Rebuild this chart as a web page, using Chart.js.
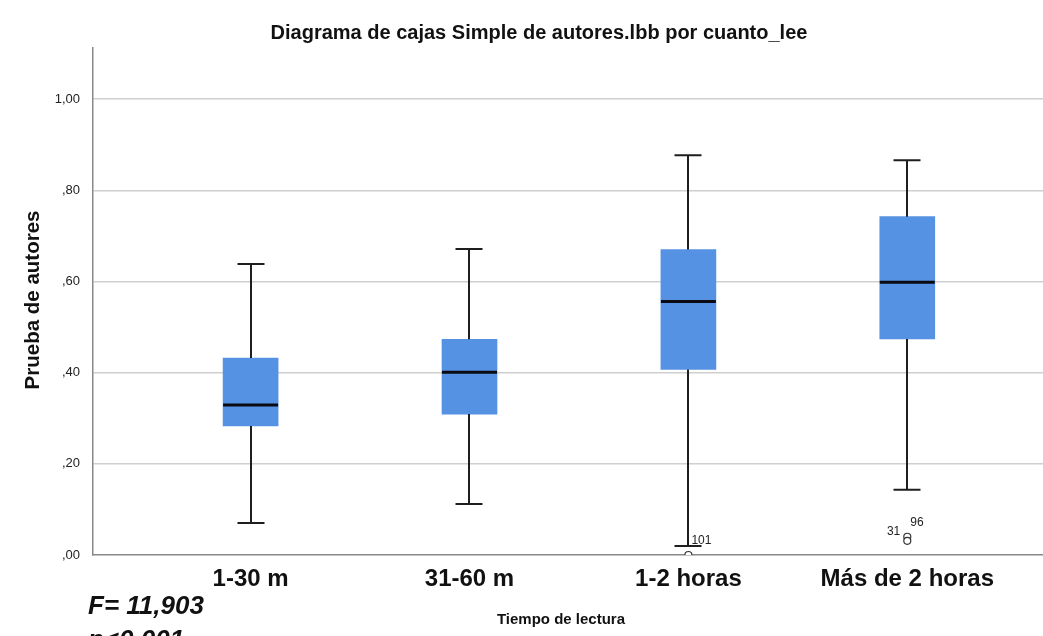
<!DOCTYPE html>
<html><head><meta charset="utf-8">
<script src="https://cdn.jsdelivr.net/npm/chart.js@4/dist/chart.umd.min.js"></script>
<style>html,body{margin:0;padding:0;background:#fff;overflow:hidden}#wrap{width:1043px;height:636px;position:relative}canvas{display:block}</style>
</head><body><div id="wrap"><canvas id="c" width="1043" height="636"></canvas></div>
<script>
const categories = ['1-30 m', '31-60 m', '1-2 horas', 'Más de 2 horas'];
const whiskerLow = [0.070, 0.112, 0.020, 0.143];
const q1 = [0.283, 0.309, 0.407, 0.474];
const median = [0.329, 0.401, 0.556, 0.598];
const q3 = [0.432, 0.473, 0.670, 0.742];
const whiskerHigh = [0.638, 0.671, 0.877, 0.866];
const outlierCategory = [3, 4, 4];
const outlierValues = [0.000, 0.040, 0.031];
const outlierLabels = ['101', '96', '31'];
const yTicks = [0, 0.2, 0.4, 0.6, 0.8, 1.0];

const FONT = '"Liberation Sans", Arial, Helvetica, sans-serif';
const labelPlacement = [
  {dx: 3, dy: -14, align: 'left'},
  {dx: 3, dy: -14, align: 'left'},
  {dx: -7, dy: -9, align: 'right'}
];

const boxPlugin = {
  id: 'boxDecor',
  afterDatasetsDraw(chart) {
    const {ctx, scales: {y}} = chart;
    const meta = chart.getDatasetMeta(0);
    ctx.save();
    categories.forEach((c, i) => {
      const bar = meta.data[i];
      const cx = Math.round(bar.x);
      const half = bar.width / 2;
      const cap = 13.5;
      const yHi = y.getPixelForValue(whiskerHigh[i]);
      const yQ3 = y.getPixelForValue(q3[i]);
      const yQ1 = y.getPixelForValue(q1[i]);
      const yLo = y.getPixelForValue(whiskerLow[i]);
      const yMed = y.getPixelForValue(median[i]);
      ctx.strokeStyle = '#1e1e1e';
      ctx.lineWidth = 2;
      ctx.beginPath();
      ctx.moveTo(cx, yHi); ctx.lineTo(cx, yQ3);
      ctx.moveTo(cx, yQ1); ctx.lineTo(cx, yLo);
      ctx.moveTo(cx - cap, yHi); ctx.lineTo(cx + cap, yHi);
      ctx.moveTo(cx - cap, yLo); ctx.lineTo(cx + cap, yLo);
      ctx.stroke();
      ctx.strokeStyle = '#0a0a12';
      ctx.lineWidth = 3;
      ctx.beginPath();
      ctx.moveTo(bar.x - half, yMed); ctx.lineTo(bar.x + half, yMed);
      ctx.stroke();
    });
    const om = chart.getDatasetMeta(1);
    ctx.fillStyle = '#222';
    ctx.font = '12px ' + FONT;
    ctx.textBaseline = 'middle';
    outlierLabels.forEach((t, i) => {
      const p = om.data[i];
      const pl = labelPlacement[i];
      ctx.textAlign = pl.align;
      ctx.fillText(t, p.x + pl.dx, p.y + pl.dy);
    });
    ctx.restore();
  },
  afterDraw(chart) {
    const ctx = chart.ctx;
    ctx.save();
    ctx.fillStyle = '#111';
    ctx.textAlign = 'center';
    ctx.textBaseline = 'middle';
    ctx.font = 'bold 20px ' + FONT;
    ctx.fillText('Diagrama de cajas Simple de autores.lbb por cuanto_lee', 539, 33);
    ctx.font = 'bold 15px ' + FONT;
    ctx.fillText('Tiempo de lectura', 561, 620);
    ctx.save();
    ctx.translate(33, 300);
    ctx.rotate(-Math.PI / 2);
    ctx.font = 'bold 20.5px ' + FONT;
    ctx.fillText('Prueba de autores', 0, 0);
    ctx.restore();
    ctx.textAlign = 'left';
    ctx.font = 'italic bold 26px ' + FONT;
    ctx.fillText('F= 11,903', 88, 607);
    ctx.fillText('p<0,001', 88, 641);
    ctx.restore();
  }
};

const fmt = v => v.toFixed(2).replace('.', ',').replace(/^0/, '');

new Chart(document.getElementById('c'), {
  data: {
    datasets: [
      {
        type: 'bar',
        data: categories.map((c, i) => ({x: i + 1, y: [q1[i], q3[i]]})),
        backgroundColor: '#5592e3',
        borderWidth: 0,
        barThickness: 55
      },
      {
        type: 'scatter',
        data: outlierValues.map((v, i) => ({x: outlierCategory[i], y: v})),
        pointStyle: 'circle',
        pointRadius: 3.5,
        pointBorderWidth: 1.2,
        pointBorderColor: '#333',
        pointBackgroundColor: '#fff'
      }
    ]
  },
  options: {
    responsive: false,
    maintainAspectRatio: false,
    animation: false,
    devicePixelRatio: 1,
    layout: {autoPadding: false, padding: {top: 48, right: 0, left: 0, bottom: 0}},
    plugins: {legend: {display: false}, tooltip: {enabled: false}, title: {display: false}},
    scales: {
      x: {
        type: 'linear',
        offset: false,
        min: 0.28,
        max: 4.62,
        afterBuildTicks: s => { s.ticks = categories.map((c, i) => ({value: i + 1})); },
        afterFit: s => { s.height = 81; s.paddingLeft = 0; s.paddingRight = 0; },
        grid: {display: false, drawTicks: false},
        border: {display: true, color: '#888', width: 1.5},
        ticks: {
          callback: (v) => categories[v - 1],
          font: {family: FONT, size: 24, weight: 'bold'},
          color: '#111',
          padding: 10,
          maxRotation: 0,
          autoSkip: false
        }
      },
      y: {
        min: 0,
        max: 1.112,
        afterBuildTicks: s => { s.ticks = yTicks.map(v => ({value: v})); },
        afterFit: s => { s.width = 93; s.paddingTop = 0; s.paddingBottom = 0; },
        grid: {color: c => c.tick && c.tick.value === 0 ? 'rgba(0,0,0,0)' : '#cfcfcf', lineWidth: 1.5, drawTicks: false},
        border: {display: true, color: '#888', width: 1.5},
        ticks: {
          callback: v => fmt(v),
          font: {family: FONT, size: 13},
          color: '#222',
          padding: 13
        }
      }
    }
  },
  plugins: [boxPlugin]
});
</script>
</body></html>
